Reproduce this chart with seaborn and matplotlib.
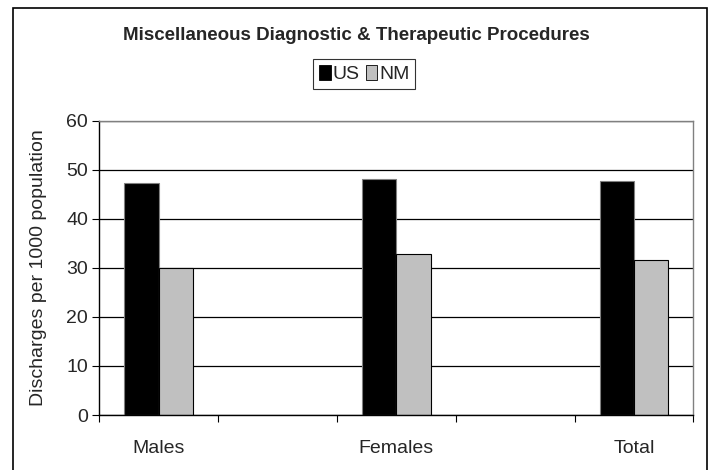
import seaborn as sns
import matplotlib
matplotlib.use("Agg")
import matplotlib.pyplot as plt
from matplotlib.patches import Rectangle
import pandas as pd

# values
groups = ["Males", "Females", "Total"]
us_vals = [47.2, 48.1, 47.8]
nm_vals = [30.0, 32.9, 31.5]
series = ["US", "NM"]
# the original has empty slots between the groups
slot_order = ["Males", "gap1", "Females", "gap2", "Total"]

df = pd.DataFrame({
    "group": groups * 2,
    "series": ["US"] * 3 + ["NM"] * 3,
    "value": us_vals + nm_vals,
})

sns.set_style("white")
plt.rcParams['font.family'] = ['Liberation Sans', 'DejaVu Sans']

fig = plt.figure(figsize=(7.13, 4.70), dpi=100)
ax = fig.add_axes([0.1393, 0.117, 0.8331, 0.6262])

colors = {"US": "#000000", "NM": "#c0c0c0"}
sns.barplot(data=df, x="group", y="value", hue="series", order=slot_order,
            hue_order=series, palette=colors, width=0.577, ax=ax,
            saturation=1, errorbar=None)

for p in ax.patches:
    fc = p.get_facecolor()
    if fc[0] < 0.5:
        p.set_edgecolor("#808080")
    else:
        p.set_edgecolor("#000000")
    p.set_linewidth(0.8)

ax.set_ylim(0, 60)
ax.set_xlim(-0.5, 4.5)
ax.set_yticks(range(0, 61, 10))
ax.yaxis.grid(True, color="black", linewidth=0.9)
ax.set_axisbelow(True)
ax.tick_params(axis="y", direction="out", length=5, width=0.8, color="black",
               labelsize=14, pad=3, left=True)

ax.set_xticks([0, 2, 4])
ax.set_xticklabels(groups, fontsize=14)
ax.set_xticks([-0.5, 0.5, 1.5, 2.5, 3.5, 4.5], minor=True)
ax.tick_params(axis="x", which="major", length=0, pad=18)
ax.tick_params(axis="x", which="minor", direction="out", length=5, width=0.8,
               color="black", bottom=True)

ax.set_xlabel("")
ax.set_ylabel("Discharges per 1000 population", fontsize=14, labelpad=14)

for side in ["top", "right"]:
    ax.spines[side].set_visible(True)
    ax.spines[side].set_color("#808080")
    ax.spines[side].set_linewidth(1)
for side in ["left", "bottom"]:
    ax.spines[side].set_color("black")
    ax.spines[side].set_linewidth(1)

handles, labels = ax.get_legend_handles_labels()
ax.get_legend().remove()
for h in handles:
    h.set_edgecolor("black")
    h.set_linewidth(0.6)
leg = fig.legend(handles, labels, loc="center", bbox_to_anchor=(0.511, 0.842),
                 ncol=2, fontsize=14, frameon=True, fancybox=False,
                 handlelength=0.6, handleheight=0.8, handletextpad=0.1,
                 columnspacing=0.3, borderpad=0.3, borderaxespad=0)
leg.get_frame().set_edgecolor("black")
leg.get_frame().set_linewidth(0.8)

fig.text(0.5, 0.925, "Miscellaneous Diagnostic & Therapeutic Procedures",
         ha="center", va="center", fontsize=13.5, fontweight="bold")

# outer chart border
fig.patches.append(Rectangle((0.018, -0.05), 0.9735, 1.033, transform=fig.transFigure,
                             fill=False, edgecolor="black", linewidth=1.2))

fig.savefig("out.png", dpi=100)
